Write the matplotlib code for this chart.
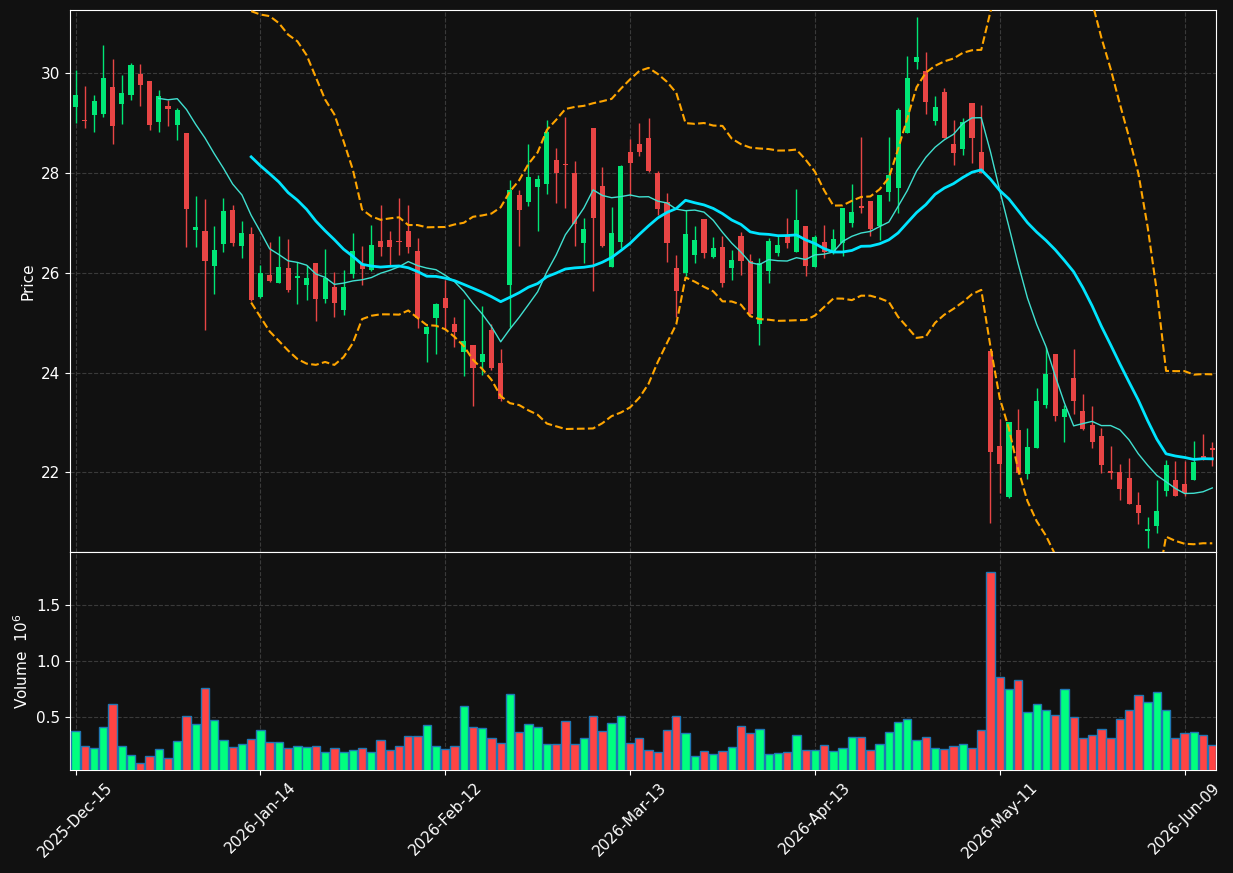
import numpy as np
import pandas as pd
import matplotlib
matplotlib.use("Agg")
import matplotlib.pyplot as plt

# daily OHLC (124 trading days)
opens = [29.33, 29.07, 29.17, 29.18, 29.73, 29.39, 29.56, 29.99, 29.85, 29.03,
         29.35, 28.97, 28.80, 26.85, 26.84, 26.14, 26.57, 27.26, 26.54, 26.78,
         25.51, 25.95, 25.80, 26.09, 25.90, 25.76, 26.19, 25.48, 25.72, 25.26,
         25.98, 26.18, 26.06, 26.64, 26.66, 26.63, 26.84, 26.44, 24.78, 25.10,
         25.50, 24.98, 24.42, 24.55, 24.22, 24.85, 24.19, 25.76, 27.57, 27.41,
         27.73, 27.79, 28.26, 28.18, 28.00, 26.60, 28.90, 27.74, 26.11, 26.62,
         28.42, 28.59, 28.71, 28.00, 27.41, 26.09, 26.00, 26.36, 27.08, 26.31,
         26.52, 26.10, 26.73, 26.24, 24.98, 26.04, 26.40, 26.74, 26.42, 26.93,
         26.12, 26.61, 26.39, 26.59, 26.99, 27.34, 27.44, 26.94, 27.63, 27.71,
         28.81, 30.23, 30.04, 29.04, 29.63, 28.58, 28.49, 29.41, 28.42, 24.44,
         22.53, 21.51, 22.84, 21.96, 22.49, 23.34, 24.38, 23.11, 23.89, 23.22,
         22.95, 22.72, 22.03, 22.00, 21.89, 21.34, 20.82, 20.93, 21.63, 21.84,
         21.76, 21.85, 22.32, 22.48]
highs = [30.07, 29.75, 29.56, 30.56, 30.28, 29.96, 30.21, 30.19, 29.85, 29.67,
         29.46, 29.30, 28.80, 27.55, 27.48, 26.93, 27.50, 27.35, 27.03, 26.92,
         26.16, 26.62, 26.73, 26.67, 26.21, 26.15, 26.19, 26.47, 26.02, 26.06,
         26.79, 26.53, 26.95, 27.35, 26.83, 27.50, 27.35, 26.70, 24.93, 25.39,
         25.85, 25.11, 25.48, 24.55, 25.33, 24.97, 24.48, 27.87, 27.66, 28.58,
         27.97, 29.06, 28.50, 29.12, 28.24, 27.10, 28.90, 28.13, 27.31, 28.16,
         28.68, 29.00, 29.11, 28.04, 27.61, 26.35, 27.25, 26.93, 27.08, 26.72,
         26.73, 26.46, 26.81, 26.38, 26.29, 26.69, 26.73, 27.10, 27.68, 26.93,
         26.76, 26.95, 26.87, 27.30, 27.78, 28.72, 27.44, 27.57, 28.73, 29.31,
         30.34, 31.14, 30.42, 29.54, 29.71, 29.06, 29.11, 29.41, 29.37, 24.44,
         23.07, 23.00, 23.27, 22.88, 23.68, 24.51, 24.38, 23.35, 24.48, 23.56,
         23.33, 22.88, 22.52, 22.17, 22.29, 21.61, 21.11, 21.84, 22.24, 22.22,
         22.22, 22.62, 22.77, 22.60]
lows = [29.01, 28.90, 28.82, 29.13, 28.58, 28.99, 29.47, 29.35, 28.86, 28.82,
        28.94, 28.66, 26.51, 26.51, 24.86, 25.57, 26.41, 26.54, 26.29, 25.43,
        25.50, 25.81, 25.79, 25.62, 25.37, 25.45, 25.04, 25.40, 25.11, 25.16,
        25.90, 25.76, 26.04, 26.34, 26.16, 26.36, 26.40, 24.90, 24.22, 24.38,
        24.86, 24.51, 23.93, 23.33, 23.95, 24.05, 23.43, 24.91, 26.53, 27.33,
        26.83, 27.59, 27.40, 27.29, 26.54, 26.19, 25.64, 26.52, 26.11, 26.50,
        27.54, 28.35, 28.02, 27.15, 26.21, 25.11, 25.93, 26.20, 26.29, 26.29,
        25.71, 25.86, 25.95, 25.13, 24.55, 25.79, 26.33, 26.49, 26.42, 25.93,
        26.11, 26.29, 26.38, 26.34, 26.92, 27.19, 26.74, 26.66, 27.43, 27.19,
        28.80, 30.08, 29.18, 28.96, 28.70, 28.16, 28.37, 28.21, 28.01, 20.98,
        21.59, 21.49, 21.96, 21.86, 22.49, 23.28, 23.03, 22.61, 23.16, 22.85,
        22.49, 21.99, 21.86, 21.45, 21.37, 20.96, 20.48, 20.79, 21.52, 21.52,
        21.53, 21.85, 22.24, 22.12]
closes = [29.56, 29.05, 29.44, 29.91, 28.95, 29.61, 30.17, 29.77, 28.97, 29.55,
          29.28, 29.27, 27.27, 26.92, 26.24, 26.46, 27.24, 26.59, 26.80, 25.46,
          25.99, 25.84, 26.12, 25.66, 25.93, 25.90, 25.48, 25.90, 25.40, 25.71,
          26.43, 26.07, 26.56, 26.52, 26.52, 26.62, 26.52, 25.09, 24.91, 25.38,
          25.30, 24.82, 24.63, 24.10, 24.37, 24.10, 23.46, 27.66, 27.25, 27.92,
          27.88, 28.82, 28.01, 28.16, 26.97, 26.87, 27.09, 26.54, 26.80, 28.14,
          28.21, 28.43, 28.05, 27.27, 26.60, 25.64, 26.78, 26.66, 26.39, 26.50,
          25.80, 26.26, 26.24, 25.18, 26.19, 26.64, 26.56, 26.60, 27.06, 26.14,
          26.72, 26.41, 26.68, 27.29, 27.22, 27.30, 26.88, 27.57, 27.97, 29.27,
          29.91, 30.32, 29.42, 29.32, 28.71, 28.41, 29.03, 28.71, 28.01, 22.41,
          22.17, 23.00, 21.98, 22.51, 23.42, 23.98, 23.13, 23.27, 23.43, 22.87,
          22.61, 22.15, 21.99, 21.67, 21.37, 21.19, 20.87, 21.22, 22.15, 21.53,
          21.59, 22.20, 22.29, 22.44]
# volume in millions
volume = [0.375, 0.240, 0.222, 0.410, 0.616, 0.240, 0.160, 0.088, 0.151, 0.213,
          0.133, 0.285, 0.509, 0.437, 0.760, 0.473, 0.294, 0.231, 0.258, 0.303,
          0.384, 0.276, 0.276, 0.222, 0.240, 0.231, 0.240, 0.187, 0.222, 0.187,
          0.204, 0.222, 0.187, 0.294, 0.204, 0.240, 0.330, 0.330, 0.428, 0.240,
          0.213, 0.240, 0.599, 0.410, 0.401, 0.312, 0.267, 0.706, 0.366, 0.437,
          0.410, 0.258, 0.258, 0.464, 0.258, 0.312, 0.509, 0.375, 0.446, 0.509,
          0.267, 0.312, 0.204, 0.187, 0.384, 0.509, 0.357, 0.151, 0.196, 0.169,
          0.196, 0.231, 0.419, 0.357, 0.393, 0.169, 0.178, 0.187, 0.339, 0.204,
          0.204, 0.249, 0.196, 0.222, 0.321, 0.321, 0.204, 0.258, 0.366, 0.455,
          0.482, 0.294, 0.321, 0.222, 0.213, 0.240, 0.258, 0.222, 0.384, 1.790,
          0.858, 0.751, 0.831, 0.545, 0.616, 0.563, 0.518, 0.751, 0.500, 0.312,
          0.339, 0.393, 0.312, 0.482, 0.563, 0.697, 0.634, 0.724, 0.563, 0.312,
          0.357, 0.366, 0.339, 0.249]
tick_labels = ['2025-Dec-15', '2026-Jan-14', '2026-Feb-12', '2026-Mar-13',
               '2026-Apr-13', '2026-May-11', '2026-Jun-09']

BG = '#111111'
UP, DOWN = '#00e676', '#e84545'
VUP, VDOWN = '#00ff7f', '#ff4444'

df = pd.DataFrame({'Open': opens, 'High': highs, 'Low': lows,
                   'Close': closes, 'Volume': volume})
x = np.arange(len(df))
up = df['Close'] >= df['Open']

ma10 = df['Close'].rolling(10).mean()
ma20 = df['Close'].rolling(20).mean()
sd20 = df['Close'].rolling(20).std(ddof=0)
bb_up = ma20 + 2 * sd20
bb_lo = ma20 - 2 * sd20

fig = plt.figure(figsize=(12.33, 8.73), dpi=100, facecolor=BG)
ax = fig.add_axes([0.0568, 0.3677, 0.9294, 0.6208])
axv = fig.add_axes([0.0568, 0.118, 0.9294, 0.2497], sharex=ax)

for a in (ax, axv):
    a.set_facecolor(BG)
    for s in a.spines.values():
        s.set_color('white')
    a.tick_params(colors='white', labelsize=11)
    a.grid(True, color='#3a3a3a', linestyle='--', linewidth=0.8)
    a.set_axisbelow(True)

# candles
cols = np.where(up, UP, DOWN)
ax.vlines(x, df['Low'], df['High'], colors=cols, linewidth=1, zorder=2)
body_lo = np.minimum(df['Open'], df['Close'])
body_h = np.maximum((df['Close'] - df['Open']).abs(), 0.02)
ax.bar(x, body_h, bottom=body_lo, width=0.55, color=cols, linewidth=0, zorder=3)

ax.plot(x, ma10, color='#40e0d0', linewidth=1, zorder=4)
ax.plot(x, ma20, color='#00e5ff', linewidth=2, zorder=4)
ax.plot(x, bb_up, color='orange', linestyle='--', linewidth=1.5, zorder=4)
ax.plot(x, bb_lo, color='orange', linestyle='--', linewidth=1.5, zorder=4)

ax.set_ylim(20.4, 31.27)
ax.set_yticks([22, 24, 26, 28, 30])
ax.set_ylabel('Price', color='white', fontsize=11)
ax.tick_params(axis='x', labelbottom=False)

# volume
vcols = np.where(up, VUP, VDOWN)
axv.bar(x, df['Volume'], width=0.9, color=vcols, edgecolor='#1f77b4',
        linewidth=1, zorder=3)
axv.set_ylim(0.3 * df['Volume'].min(), 1.1 * df['Volume'].max())
axv.set_yticks([0.5, 1.0, 1.5])
axv.set_ylabel('Volume  $10^{6}$', color='white', fontsize=11)

axv.set_xlim(-0.6, len(df) - 0.6)
axv.set_xticks(x[::20])
axv.set_xticklabels(tick_labels)
axv.tick_params(axis='x', rotation=45)

fig.savefig('out.png', dpi=100, facecolor=BG)
